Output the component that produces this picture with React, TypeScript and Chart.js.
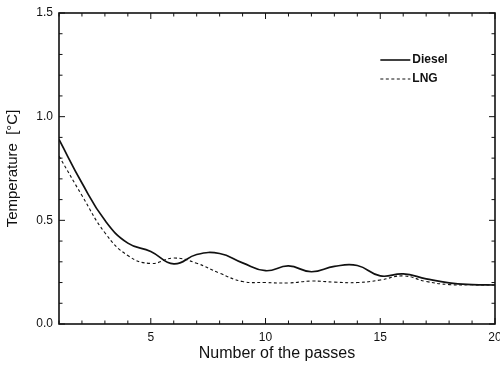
import React, { useEffect, useRef } from "react";
import { Chart, registerables } from "chart.js";

Chart.register(...registerables);

const passes = [1, 2, 3, 4, 5, 6, 7, 8, 9, 10, 11, 12, 13, 14, 15, 16, 17, 18, 19, 20];
const diesel = [0.89, 0.68, 0.5, 0.39, 0.35, 0.29, 0.335, 0.34, 0.295, 0.257, 0.28, 0.252, 0.278, 0.282, 0.232, 0.242, 0.218, 0.198, 0.19, 0.188];
const lng = [0.81, 0.62, 0.44, 0.33, 0.292, 0.318, 0.293, 0.245, 0.205, 0.2, 0.198, 0.207, 0.202, 0.2, 0.212, 0.232, 0.205, 0.19, 0.189, 0.188];
const seriesNames = ["Diesel", "LNG"];
const yMajorTicks = [0, 0.5, 1.0, 1.5];
const xMajorTicks = [5, 10, 15, 20];

const FONT = "'Liberation Sans', Arial, sans-serif";
const INK = "#111";

const framePlugin = {
  id: "frameTicks",
  afterDraw(chart: any) {
    const { ctx, chartArea: a, scales } = chart;
    const xs = scales.x;
    const ys = scales.y;
    ctx.save();
    ctx.strokeStyle = INK;
    ctx.lineWidth = 1.6;
    ctx.strokeRect(a.left, a.top, a.right - a.left, a.bottom - a.top);
    ctx.lineWidth = 1;
    for (let v = 1; v <= 20; v++) {
      const px = xs.getPixelForValue(v);
      const len = xMajorTicks.includes(v) ? 6 : 3.5;
      ctx.beginPath();
      ctx.moveTo(px, a.bottom);
      ctx.lineTo(px, a.bottom - len);
      ctx.moveTo(px, a.top);
      ctx.lineTo(px, a.top + len);
      ctx.stroke();
    }
    for (let i = 0; i <= 15; i++) {
      const v = i / 10;
      const py = ys.getPixelForValue(v);
      const len = i % 5 === 0 ? 6 : 3.5;
      ctx.beginPath();
      ctx.moveTo(a.left, py);
      ctx.lineTo(a.left + len, py);
      ctx.moveTo(a.right, py);
      ctx.lineTo(a.right - len, py);
      ctx.stroke();
    }
    // legend
    const lx = a.left + (a.right - a.left) * 0.737;
    const ly = a.top + 47;
    const items = [
      { name: seriesNames[0], dash: [] as number[], w: 1.6 },
      { name: seriesNames[1], dash: [3, 2.5], w: 1.1 },
    ];
    ctx.font = `bold 12px ${FONT}`;
    ctx.fillStyle = INK;
    ctx.textBaseline = "middle";
    items.forEach((it, i) => {
      const y = ly + i * 19;
      ctx.beginPath();
      ctx.setLineDash(it.dash);
      ctx.lineWidth = it.w;
      ctx.moveTo(lx, y);
      ctx.lineTo(lx + 30, y);
      ctx.stroke();
      ctx.setLineDash([]);
      ctx.fillText(it.name, lx + 32, y);
    });
    ctx.restore();
  },
};

export default function App() {
  const ref = useRef<HTMLCanvasElement | null>(null);
  useEffect(() => {
    if (!ref.current) return;
    const chart = new Chart(ref.current, {
      type: "line",
      data: {
        datasets: [
          {
            label: seriesNames[0],
            data: passes.map((p, i) => ({ x: p, y: diesel[i] })),
            borderColor: INK,
            borderWidth: 1.7,
            pointRadius: 0,
            tension: 0.45,
            fill: false,
          },
          {
            label: seriesNames[1],
            data: passes.map((p, i) => ({ x: p, y: lng[i] })),
            borderColor: INK,
            borderWidth: 1.1,
            borderDash: [3, 2.5],
            pointRadius: 0,
            tension: 0.45,
            fill: false,
          },
        ],
      },
      options: {
        responsive: false,
        animation: false,
        layout: { padding: { top: 13, right: 5, left: 0, bottom: 0 } },
        plugins: { legend: { display: false }, tooltip: { enabled: false } },
        scales: {
          x: {
            type: "linear",
            min: 1,
            max: 20,
            grid: { display: false, drawTicks: false },
            border: { display: false },
            ticks: {
              stepSize: 1,
              padding: 6,
              color: INK,
              font: { family: FONT, size: 12 },
              maxRotation: 0,
              autoSkip: false,
              callback: (v: any) => (xMajorTicks.includes(Number(v)) ? String(v) : ""),
            },
            title: {
              display: true,
              text: "Number of the passes",
              color: INK,
              font: { family: FONT, size: 16 },
              padding: { top: 4, bottom: 11 },
            },
            afterFit: (s: any) => {
              s.height = 50;
              s.paddingRight = 0;
              s.paddingLeft = 0;
            },
          },
          y: {
            type: "linear",
            min: 0,
            max: 1.5,
            grid: { display: false, drawTicks: false },
            border: { display: false },
            ticks: {
              stepSize: 0.1,
              padding: 6,
              color: INK,
              autoSkip: false,
              font: { family: FONT, size: 12 },
              callback: (v: any) => {
                const n = Number(v);
                return yMajorTicks.some((m) => Math.abs(m - n) < 1e-6) ? n.toFixed(1) : "";
              },
            },
            title: {
              display: true,
              text: "Temperature  [°C]",
              color: INK,
              font: { family: FONT, size: 15 },
              padding: { top: 4, bottom: 2 },
            },
            afterFit: (s: any) => {
              s.width = 59;
              s.paddingTop = 0;
              s.paddingBottom = 0;
            },
          },
        },
      } as any,
      plugins: [framePlugin],
    });
    return () => chart.destroy();
  }, []);
  return (
    <div style={{ position: "fixed", left: 0, top: 0, width: 500, height: 374, background: "#fff" }}>
      <canvas ref={ref} width={500} height={374} />
    </div>
  );
}
